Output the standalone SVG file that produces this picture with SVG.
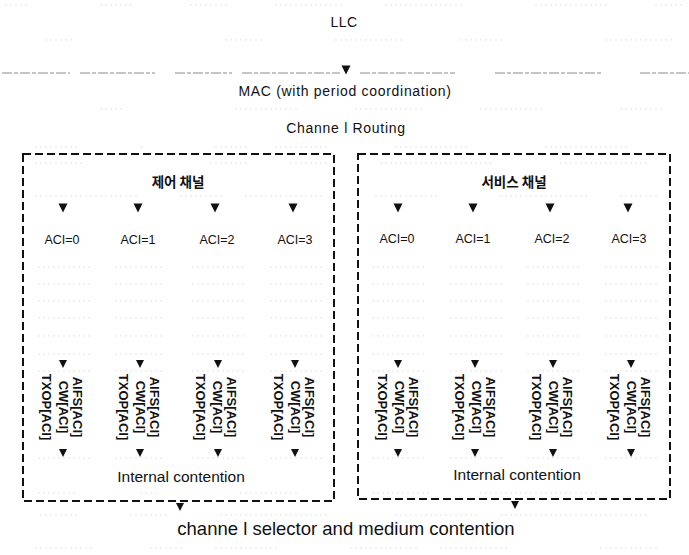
<svg xmlns="http://www.w3.org/2000/svg" xmlns:xlink="http://www.w3.org/1999/xlink" width="689" height="555" viewBox="0 0 689 555">
<style>
  .t{font-family:"Liberation Sans",Arial,sans-serif;fill:#111;}
  .k{font-family:"Noto Sans CJK KR","Liberation Sans",sans-serif;font-weight:bold;font-size:13.5px;fill:#111;}
  .hdr{font-size:14px;letter-spacing:0.7px;}
  .aci{font-size:12.5px;}
  .rot{font-size:13px;font-weight:bold;}
  .ic{font-size:15.5px;}
  .box{fill:none;stroke:#111;stroke-width:2;stroke-dasharray:8 4;}
  .trace{fill:none;stroke:#d6d6d6;stroke-width:0.7;stroke-dasharray:2 3;}
  .mac{fill:none;stroke:#8a8a8a;stroke-width:1;stroke-dasharray:10 2 4 2;}
  .arr{fill:#111;}
</style>
<defs>
  <path id="tri" d="M-4.5,-4.5 L4.5,-4.5 L0,4.5 Z"/>
  <path id="tris" d="M-4,-4 L4,-4 L0,4 Z"/>
</defs>
<rect width="689" height="555" fill="#fff"/>

<g id="traces">
  <path class="trace" d="M5,5 H30 M100,5 H135 M190,5 H230 M275,5 H345 M385,5 H465 M535,5 H610 M655,5 H685"/>
  <path class="trace" d="M45,40 H75 M225,40 H265 M335,40 H405 M460,40 H505 M605,40 H675"/>
  <path class="mac" d="M2,73 H70 M80,73 H155 M175,73 H232 M242,73 H340 M360,73 H455 M495,73 H603 M640,73 H689"/>
  <path class="trace" d="M100,109 H125 M235,109 H300 M355,109 H425 M480,109 H545 M620,109 H665"/>
  <path class="trace" d="M35,147 H80 M140,147 H145 M215,147 H250 M275,147 H330 M395,147 H470 M545,147 H630"/>
  <path class="trace" d="M35,163 H85 M210,163 H250 M290,163 H330 M380,163 H495 M560,163 H650"/>
  <path class="trace" d="M35,196 H140 M180,196 H225 M245,196 H325 M375,196 H440 M500,196 H590 M620,196 H660"/>
  <path class="trace" d="M38,267 H90 M115,267 H165 M192,267 H245 M270,267 H322 M372,267 H425 M450,267 H502 M527,267 H580 M605,267 H660"/>
  <path class="trace" d="M38,284 H90 M115,284 H165 M192,284 H245 M270,284 H322 M372,284 H425 M450,284 H502 M527,284 H580 M605,284 H660"/>
  <path class="trace" d="M38,301 H90 M115,301 H165 M192,301 H245 M270,301 H322 M372,301 H425 M450,301 H502 M527,301 H580 M605,301 H660"/>
  <path class="trace" d="M38,318 H90 M115,318 H165 M192,318 H245 M270,318 H322 M372,318 H425 M450,318 H502 M527,318 H580 M605,318 H660"/>
  <path class="trace" d="M38,336 H90 M115,336 H165 M192,336 H245 M270,336 H322 M372,336 H425 M450,336 H502 M527,336 H580 M605,336 H660"/>
  <path class="trace" d="M38,354 H90 M115,354 H165 M192,354 H245 M270,354 H322 M372,354 H425 M450,354 H502 M527,354 H580 M605,354 H660"/>
  <path class="trace" d="M38,371 H90 M115,371 H165 M192,371 H245 M270,371 H322 M372,371 H425 M450,371 H502 M527,371 H580 M605,371 H660"/>
  <path class="trace" d="M38,458 H90 M115,458 H165 M192,458 H245 M270,458 H322 M372,458 H425 M450,458 H502 M527,458 H580 M605,458 H660"/>
  <path class="trace" d="M38,493 H75 M140,493 H160 M240,493 H300 M372,493 H430 M480,493 H600"/>
  <path class="trace" d="M40,515 H80 M130,515 H170 M220,515 H330 M395,515 H480 M500,515 H650"/>
  <path class="trace" d="M35,548 H95 M150,548 H185 M215,548 H280 M350,548 H420 M440,548 H510 M600,548 H660"/>
</g>

<g id="top-layers">
  <text class="t hdr" x="344" y="27" text-anchor="middle" style="letter-spacing:0.5px">LLC</text>
  <text class="t hdr" x="345" y="96" text-anchor="middle">MAC (with period coordination)</text>
  <text class="t hdr" x="346" y="133" text-anchor="middle">Channe l Routing</text>
</g>

<g id="control-channel">
  <rect class="box" x="23" y="154" width="311" height="347"/>
  <text class="k" x="178" y="187" text-anchor="middle">제어 채널</text>
  <g id="cc-aci0">
    <text class="t aci" x="62" y="244" text-anchor="middle">ACI=0</text>
    <text class="t rot" transform="translate(73.4,407) rotate(90)" text-anchor="middle"><tspan x="0">AIFS[ACI]</tspan><tspan x="0" dy="14">CW[ACI]</tspan><tspan x="0" dy="17">TXOP[ACI]</tspan></text>
  </g>
  <g id="cc-aci1">
    <text class="t aci" x="138" y="244" text-anchor="middle">ACI=1</text>
    <text class="t rot" transform="translate(150.4,407) rotate(90)" text-anchor="middle"><tspan x="0">AIFS[ACI]</tspan><tspan x="0" dy="14">CW[ACI]</tspan><tspan x="0" dy="17">TXOP[ACI]</tspan></text>
  </g>
  <g id="cc-aci2">
    <text class="t aci" x="217" y="244" text-anchor="middle">ACI=2</text>
    <text class="t rot" transform="translate(227.4,407) rotate(90)" text-anchor="middle"><tspan x="0">AIFS[ACI]</tspan><tspan x="0" dy="14">CW[ACI]</tspan><tspan x="0" dy="17">TXOP[ACI]</tspan></text>
  </g>
  <g id="cc-aci3">
    <text class="t aci" x="295" y="244" text-anchor="middle">ACI=3</text>
    <text class="t rot" transform="translate(305.4,407) rotate(90)" text-anchor="middle"><tspan x="0">AIFS[ACI]</tspan><tspan x="0" dy="14">CW[ACI]</tspan><tspan x="0" dy="17">TXOP[ACI]</tspan></text>
  </g>
  <text class="t ic" x="181" y="482" text-anchor="middle">Internal contention</text>
</g>

<g id="service-channel">
  <rect class="box" x="358" y="154" width="312" height="345"/>
  <text class="k" x="514" y="187" text-anchor="middle">서비스 채널</text>
  <g id="sc-aci0">
    <text class="t aci" x="397" y="243" text-anchor="middle">ACI=0</text>
    <text class="t rot" transform="translate(409.4,407) rotate(90)" text-anchor="middle"><tspan x="0">AIFS[ACI]</tspan><tspan x="0" dy="14">CW[ACI]</tspan><tspan x="0" dy="17">TXOP[ACI]</tspan></text>
  </g>
  <g id="sc-aci1">
    <text class="t aci" x="473" y="243" text-anchor="middle">ACI=1</text>
    <text class="t rot" transform="translate(486.4,407) rotate(90)" text-anchor="middle"><tspan x="0">AIFS[ACI]</tspan><tspan x="0" dy="14">CW[ACI]</tspan><tspan x="0" dy="17">TXOP[ACI]</tspan></text>
  </g>
  <g id="sc-aci2">
    <text class="t aci" x="552" y="243" text-anchor="middle">ACI=2</text>
    <text class="t rot" transform="translate(563.4,407) rotate(90)" text-anchor="middle"><tspan x="0">AIFS[ACI]</tspan><tspan x="0" dy="14">CW[ACI]</tspan><tspan x="0" dy="17">TXOP[ACI]</tspan></text>
  </g>
  <g id="sc-aci3">
    <text class="t aci" x="629" y="243" text-anchor="middle">ACI=3</text>
    <text class="t rot" transform="translate(641.4,407) rotate(90)" text-anchor="middle"><tspan x="0">AIFS[ACI]</tspan><tspan x="0" dy="14">CW[ACI]</tspan><tspan x="0" dy="17">TXOP[ACI]</tspan></text>
  </g>
  <text class="t ic" x="517" y="480" text-anchor="middle">Internal contention</text>
</g>

<g id="medium-contention">
  <text class="t" x="346" y="535" text-anchor="middle" style="font-size:18.5px">channe l selector and medium contention</text>
</g>

<g id="connectors" class="arr">
  <use xlink:href="#tri" x="346" y="70"/>
  <use xlink:href="#tri" x="63" y="208"/>
  <use xlink:href="#tri" x="138" y="208"/>
  <use xlink:href="#tri" x="215" y="208"/>
  <use xlink:href="#tri" x="293" y="208"/>
  <use xlink:href="#tri" x="398" y="208"/>
  <use xlink:href="#tri" x="473" y="208"/>
  <use xlink:href="#tri" x="550" y="208"/>
  <use xlink:href="#tri" x="628" y="208"/>
  <use xlink:href="#tris" x="63" y="364"/>
  <use xlink:href="#tris" x="140" y="364"/>
  <use xlink:href="#tris" x="218" y="364"/>
  <use xlink:href="#tris" x="295" y="364"/>
  <use xlink:href="#tris" x="398" y="364"/>
  <use xlink:href="#tris" x="475" y="364"/>
  <use xlink:href="#tris" x="553" y="364"/>
  <use xlink:href="#tris" x="631" y="364"/>
  <use xlink:href="#tris" x="63" y="453"/>
  <use xlink:href="#tris" x="140" y="453"/>
  <use xlink:href="#tris" x="218" y="453"/>
  <use xlink:href="#tris" x="295" y="453"/>
  <use xlink:href="#tris" x="398" y="453"/>
  <use xlink:href="#tris" x="475" y="453"/>
  <use xlink:href="#tris" x="553" y="453"/>
  <use xlink:href="#tris" x="631" y="453"/>
  <use xlink:href="#tris" x="180" y="507"/>
  <use xlink:href="#tris" x="515" y="505"/>
</g>
</svg>
